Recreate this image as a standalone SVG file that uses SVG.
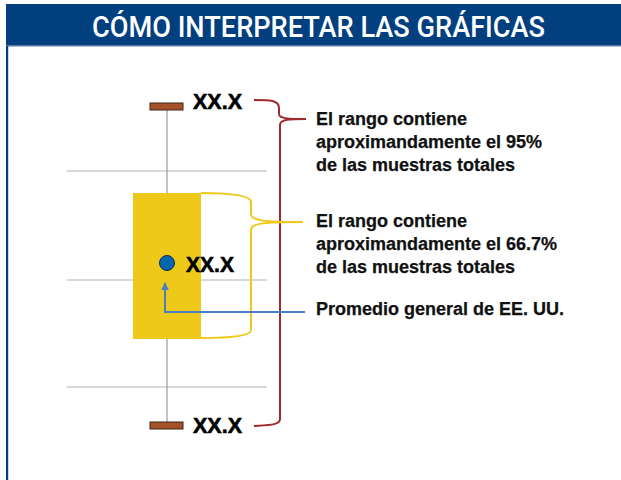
<svg xmlns="http://www.w3.org/2000/svg" width="621" height="480" viewBox="0 0 621 480">
<defs>
<style>
.grid{stroke:#b3b3b3;stroke-width:1.2;fill:none}
.cap{fill:#a5522a;stroke:#3a2418;stroke-width:1}
.val{font-family:"Liberation Sans",Arial,sans-serif;font-weight:bold;font-size:22px;fill:#000;stroke:#000;stroke-width:0.6}
.note{font-family:"Liberation Sans",Arial,sans-serif;font-weight:bold;font-size:18px;fill:#111;stroke:#111;stroke-width:0.25}
.title{font-family:Roboto,"Liberation Sans",sans-serif;font-weight:500;font-size:30px;fill:#fff}
</style>
<marker id="arrowBlue" viewBox="0 0 10 10" refX="9" refY="5" markerWidth="4" markerHeight="4" orient="auto">
<path d="M0,0 L10,5 L0,10 z" fill="#4a7fc1"/>
</marker>
</defs>
<rect width="621" height="480" fill="#fff"/>
<g id="header">
<rect x="6" y="4" width="615" height="42" fill="#023f7e"/>
<rect x="6" y="45" width="615" height="1.5" fill="#5679a6"/>
<rect x="6" y="46" width="2.2" height="434" fill="#023f7e"/>
<text class="title" x="92" y="37" textLength="453" lengthAdjust="spacingAndGlyphs">CÓMO INTERPRETAR LAS GRÁFICAS</text>
</g>
<g id="gridlines">
<line class="grid" x1="67" y1="171" x2="267" y2="171"/>
<line class="grid" x1="67" y1="280" x2="267" y2="280"/>
<line class="grid" x1="67" y1="387" x2="267" y2="387"/>
</g>
<g id="whisker">
<line x1="167" y1="107" x2="167" y2="425" stroke="#999" stroke-width="1.2"/>
</g>
<g id="box">
<rect x="133" y="193" width="68" height="146" fill="#eec91a"/>
</g>
<g id="top-cap">
<rect class="cap" x="150" y="103" width="33" height="7"/>
<text class="val" x="193" y="109" textLength="49" lengthAdjust="spacingAndGlyphs">XX.X</text>
</g>
<g id="bottom-cap">
<rect class="cap" x="150" y="422" width="33" height="7"/>
<text class="val" x="193" y="433" textLength="49" lengthAdjust="spacingAndGlyphs">XX.X</text>
</g>
<g id="mean">
<circle cx="167" cy="263" r="7.5" fill="#0467b0" stroke="#0c2a4a" stroke-width="1"/>
<text class="val" x="186" y="272" textLength="48" lengthAdjust="spacingAndGlyphs">XX.X</text>
</g>
<g id="connectors" fill="none">
<path d="M254,100 C270,100 279,100 279,108 L279,114 C279,119 290,119 306,119 M306,119 C290,119 280,119 280,125 L280,419 C280,425 270,425 254,426" stroke="#a0292b" stroke-width="2"/>
<path d="M201,193 C235,193 251,196 251,202 L251,214 C251,221 265,222 303,222 M303,222 C265,222 251,223 251,230 L251,330 C251,336 230,338 201,338" stroke="#eec91a" stroke-width="2"/>
<path d="M305,312 L165,312 L165,283" stroke="#4a7fc1" stroke-width="2" marker-end="url(#arrowBlue)"/>
</g>
<g id="note-95">
<text class="note" x="316" y="125">El rango contiene</text>
<text class="note" x="316" y="148">aproximandamente el 95%</text>
<text class="note" x="316" y="171">de las muestras totales</text>
</g>
<g id="note-667">
<text class="note" x="316" y="227">El rango contiene</text>
<text class="note" x="316" y="250">aproximandamente el 66.7%</text>
<text class="note" x="316" y="273">de las muestras totales</text>
</g>
<g id="note-mean">
<text class="note" x="316" y="315">Promedio general de EE. UU.</text>
</g>
</svg>
